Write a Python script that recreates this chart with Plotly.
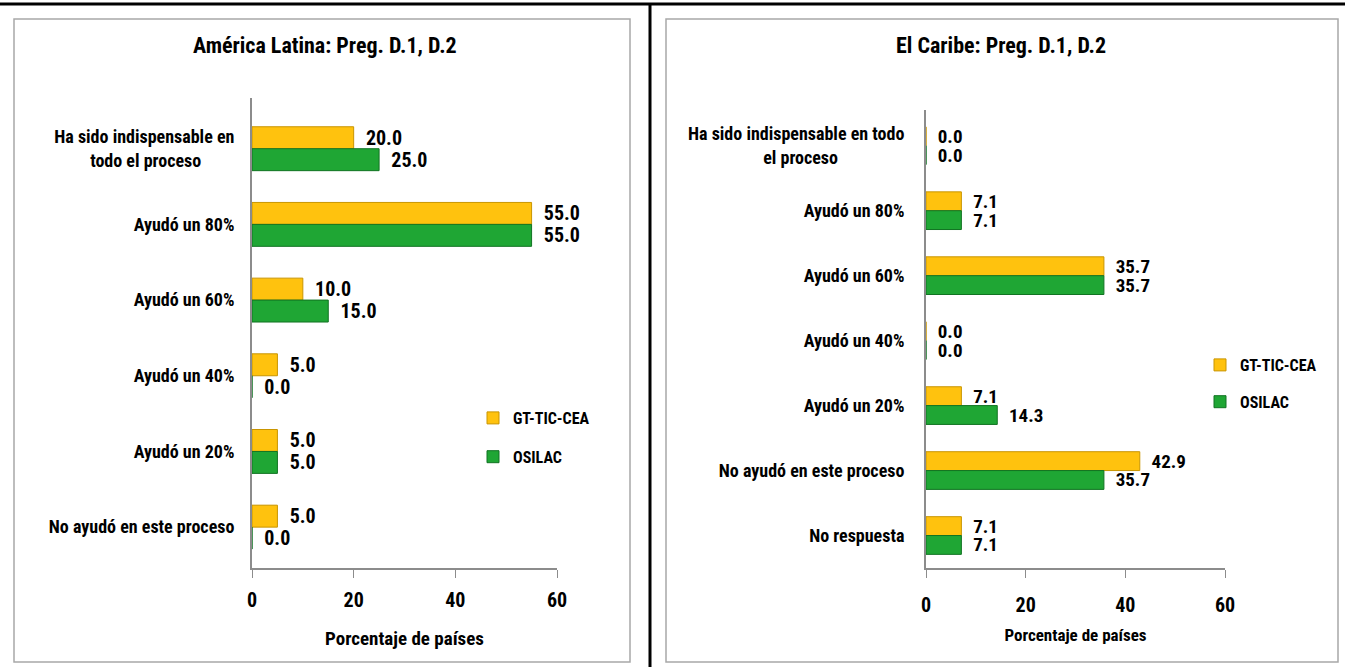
import plotly.graph_objects as go

# ---------------- data ----------------
NB = "\u00a0"
cats_al = ["Ha sido indispensable en<br>todo el proceso" + NB * 8, "Ayudó un 80%", "Ayudó un 60%",
           "Ayudó un 40%", "Ayudó un 20%", "No ayudó en este proceso"]
gt_al = [20.0, 55.0, 10.0, 5.0, 5.0, 5.0]
os_al = [25.0, 55.0, 15.0, 0.0, 5.0, 0.0]

cats_cb = ["Ha sido indispensable en todo<br>el proceso" + NB * 16, "Ayudó un 80%", "Ayudó un 60%",
           "Ayudó un 40%", "Ayudó un 20%", "No ayudó en este proceso", "No respuesta"]
gt_cb = [0.0, 7.1, 35.7, 0.0, 7.1, 42.9, 7.1]
os_cb = [0.0, 7.1, 35.7, 0.0, 14.3, 35.7, 7.1]

series_names = ["GT-TIC-CEA", "OSILAC"]
x_ticks = [0, 20, 40, 60]
title_al = "América Latina: Preg. D.1, D.2"
title_cb = "El Caribe: Preg. D.1, D.2"
x_title = "Porcentaje de países"

# ---------------- style ----------------
FONT = "Roboto Condensed, Open Sans Condensed, DejaVu Sans Condensed, sans-serif"
YEL, YEL_L = "#FFC20E", "#C99500"
GRN, GRN_L = "#1FA634", "#117322"
W, H = 1345, 667

def px_x(p):
    return p / W

def px_y(p):
    return 1 - p / H

fig = go.Figure()

def add_pair(cats, gt, osv, xa, ya, legend, size):
    for name, vals, col, lc, grp in [(series_names[0], gt, YEL, YEL_L, "a"),
                                     (series_names[1], osv, GRN, GRN_L, "b")]:
        fig.add_trace(go.Bar(
            y=cats, x=vals, name=name, orientation="h",
            marker=dict(color=col, line=dict(color=lc, width=1)),
            text=vals, texttemplate=NB + NB + "%{x:.1f}", textposition="outside",
            constraintext="none",
            textfont=dict(family=FONT, size=size, color="black", weight="bold"),
            cliponaxis=False, xaxis=xa, yaxis=ya, legend=legend,
            legendgroup=legend + grp, hoverinfo="skip",
        ))

add_pair(cats_al, gt_al, os_al, "x", "y", "legend", 20)
add_pair(cats_cb, gt_cb, os_cb, "x2", "y2", "legend2", 19)

def f(size):
    return dict(family=FONT, size=size, color="black", weight="bold")

common_x = dict(range=[0, 60], tickvals=x_ticks, showgrid=False, zeroline=False,
                showline=True, linecolor="#8c8c8c", linewidth=2,
                ticks="outside", ticklen=8, tickcolor="#8c8c8c", tickwidth=1,
                tickfont=f(20), fixedrange=True, automargin=False)
common_y = dict(showgrid=False, zeroline=False,
                showline=True, linecolor="#8c8c8c", linewidth=2,
                ticks="", tickfont=f(18), fixedrange=True, automargin=False)

fig.update_layout(
    width=W, height=H, margin=dict(l=0, r=0, t=0, b=0, autoexpand=False),
    paper_bgcolor="white", plot_bgcolor="white",
    barmode="group", bargap=0.42, bargroupgap=0.0,
    xaxis=dict(**common_x, domain=[px_x(252), px_x(557)], anchor="y",
               ticklabelstandoff=5,
               title=dict(text=x_title, font=f(19), standoff=21)),
    yaxis=dict(**common_y, domain=[px_y(568), px_y(98)], anchor="x",
               range=[len(cats_al) - 0.46, -0.67], ticklabelstandoff=12),
    xaxis2=dict(**common_x, domain=[px_x(926), px_x(1225)], anchor="y2",
                ticklabelstandoff=10,
                title=dict(text=x_title, font=f(17), standoff=13)),
    yaxis2=dict(**common_y, domain=[px_y(568), px_y(110)], anchor="x2",
                range=[len(cats_cb) - 0.5, -0.55], ticklabelstandoff=16),
    legend=dict(x=px_x(473), y=px_y(401), xanchor="left", yanchor="top",
                font=f(16), tracegroupgap=15, itemwidth=30, bgcolor="rgba(0,0,0,0)"),
    legend2=dict(x=px_x(1200), y=px_y(348), xanchor="left", yanchor="top",
                 font=f(16), tracegroupgap=13, itemwidth=30, bgcolor="rgba(0,0,0,0)"),
    showlegend=True,
    annotations=[
        dict(text=title_al, x=px_x(325), y=px_y(45), xref="paper", yref="paper",
             xanchor="center", yanchor="middle", showarrow=False, font=f(22)),
        dict(text=title_cb, x=px_x(1001), y=px_y(45), xref="paper", yref="paper",
             xanchor="center", yanchor="middle", showarrow=False, font=f(22)),
    ],
    shapes=[
        # panel frames
        dict(type="rect", xref="paper", yref="paper", x0=px_x(14), x1=px_x(630),
             y0=px_y(662), y1=px_y(19), line=dict(color="#a8a8a8", width=1.5)),
        dict(type="rect", xref="paper", yref="paper", x0=px_x(666), x1=px_x(1338),
             y0=px_y(662), y1=px_y(19), line=dict(color="#a8a8a8", width=1.5)),
        # table lines
        dict(type="line", xref="paper", yref="paper", x0=0, x1=1, y0=px_y(4), y1=px_y(4),
             line=dict(color="black", width=3)),
        dict(type="line", xref="paper", yref="paper", x0=px_x(650), x1=px_x(650),
             y0=0, y1=px_y(4), line=dict(color="black", width=3)),
    ],
)

fig.write_html(
    "out.html",
    config={"displayModeBar": False},
    post_script=("document.documentElement.style.overflow='hidden';"
                 "document.body.style.overflow='hidden';"
                 "document.body.style.margin='0';"),
)
